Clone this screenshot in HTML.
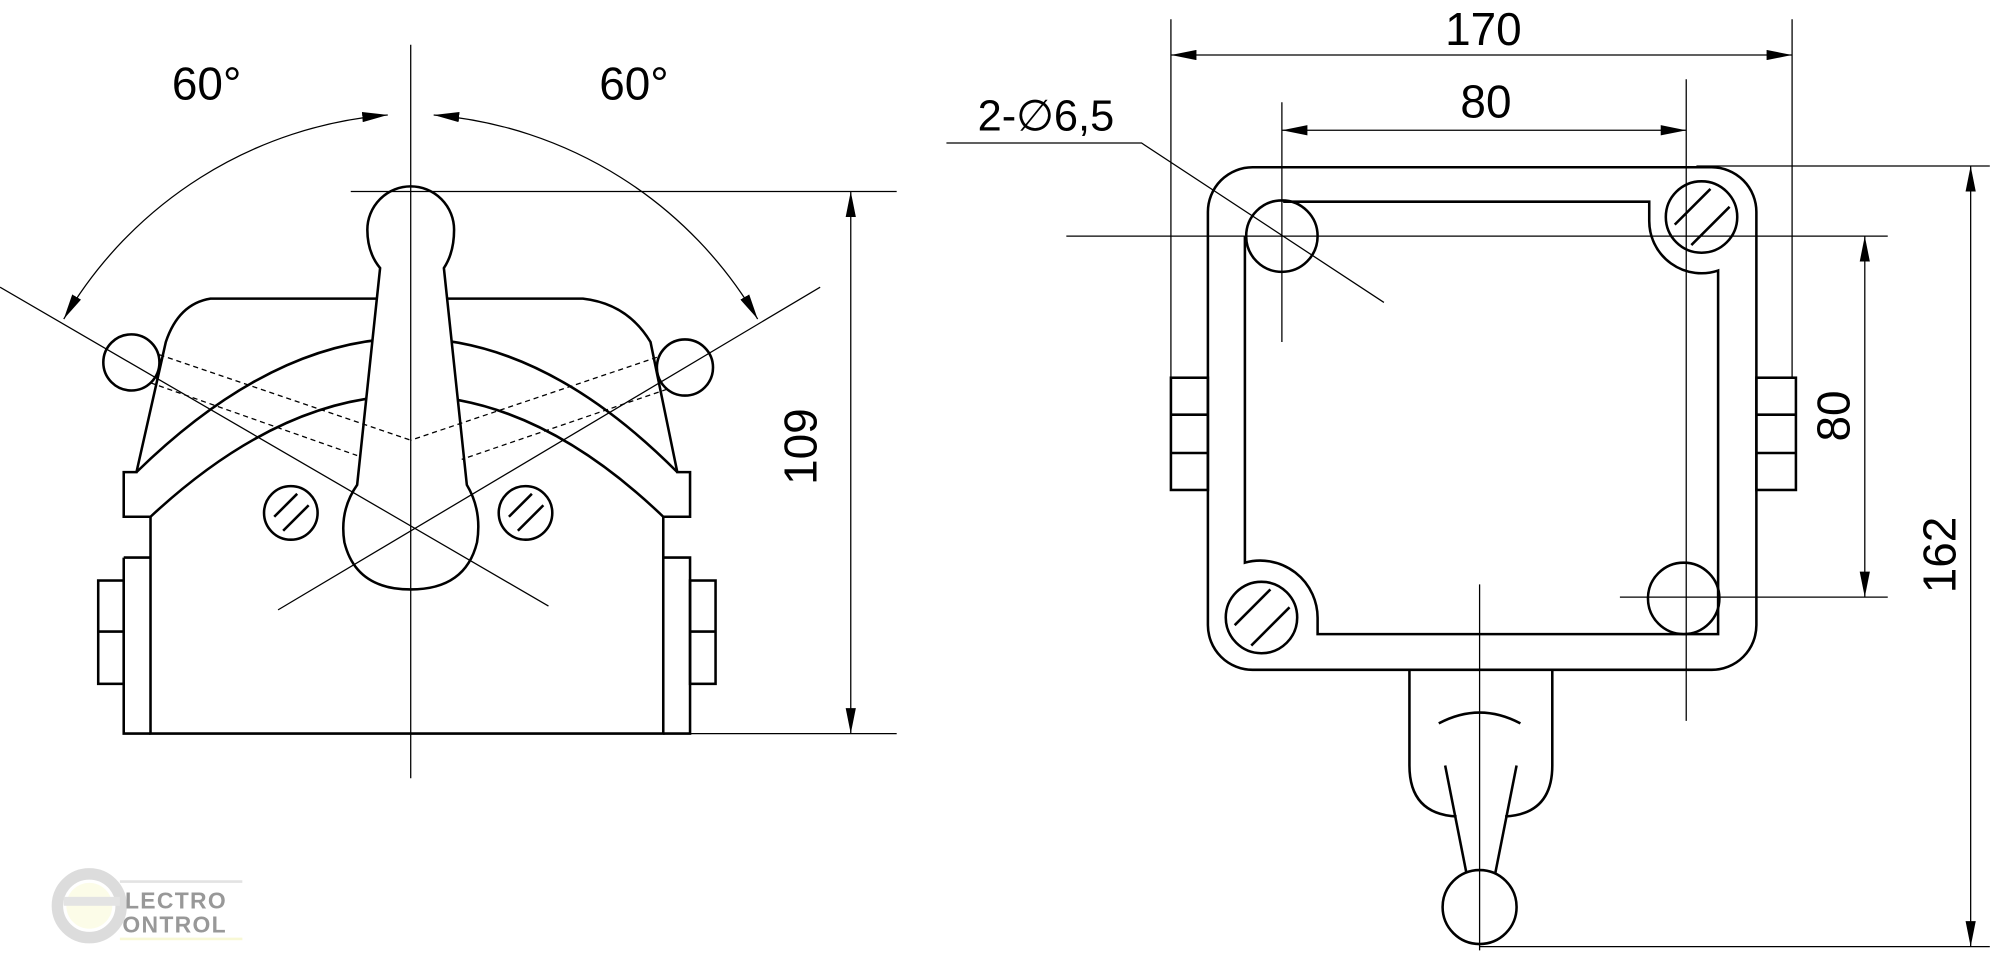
<!DOCTYPE html>
<html><head><style>
html,body{margin:0;padding:0;background:#fff;width:2000px;height:971px;overflow:hidden}
svg{display:block}
text{font-family:"Liberation Sans",Arial,sans-serif;fill:#000}
</style></head><body>
<svg width="2000" height="971" viewBox="0 0 1568 761" xmlns="http://www.w3.org/2000/svg">
<defs>
<marker id="a" viewBox="0 0 20 8" refX="20" refY="4" markerWidth="20" markerHeight="8" orient="auto-start-reverse" markerUnits="userSpaceOnUse"><path d="M0,0 L20,4 L0,8 Z" fill="#000"/></marker>
</defs>
<g fill="none" stroke="#000" stroke-width="2">
<path d="M97,370 L107,370 L130,268 Q140,238 165,234 L457,234 Q492,238 510,268 L531,370 L541,370 L541,405 L520,405 L520,575 L118,575 L118,405 L97,405 Z"/>
<path d="M107,370 Q322,160 531,370"/>
<path d="M118,405 Q322,215 520,405"/>
<path d="M97,437 L118,437 M97,437 L97,575 L118,575 M520,437 L541,437 L541,575 L520,575"/>
<rect x="77" y="455" width="20" height="81"/>
<line x1="77" y1="495" x2="97" y2="495"/>
<rect x="541" y="455" width="20" height="81"/>
<line x1="541" y1="495" x2="561" y2="495"/>
<circle cx="103" cy="284" r="22" fill="#fff"/>
<circle cx="537" cy="288" r="22" fill="#fff"/>
<circle cx="228" cy="402" r="21"/>
<line x1="215" y1="405" x2="233" y2="387"/><line x1="222" y1="416" x2="242" y2="396"/>
<circle cx="412" cy="402" r="21"/>
<line x1="399" y1="405" x2="417" y2="387"/><line x1="406" y1="416" x2="426" y2="396"/>
<path d="M298,210 Q288,198 288,180 A34,34 0 0 1 356,180 Q356,198 348,210 L366,380 Q378,400 374,425 Q365,462 322,462 Q279,462 270,425 Q266,400 280,380 Z" fill="#fff"/>
</g>
<g fill="none" stroke="#000" stroke-width="1">
<line x1="322" y1="35" x2="322" y2="610"/>
<line x1="0" y1="225" x2="430" y2="475"/>
<line x1="643" y1="225" x2="218" y2="478"/>
<g stroke-dasharray="4,3"><line x1="125" y1="278" x2="322" y2="345"/><line x1="118" y1="300" x2="280" y2="357"/><line x1="515" y1="280" x2="322" y2="345"/><line x1="523" y1="305" x2="362" y2="360"/></g>
<path d="M50,250 A325,325 0 0 1 304,90" marker-start="url(#a)" marker-end="url(#a)"/>
<path d="M340,90 A325,325 0 0 1 594,250" marker-start="url(#a)" marker-end="url(#a)"/>
<line x1="275" y1="150" x2="703" y2="150"/>
<line x1="541" y1="575" x2="703" y2="575"/>
<line x1="667" y1="150" x2="667" y2="575" marker-start="url(#a)" marker-end="url(#a)"/>
</g>
<text x="162" y="78" font-size="36" text-anchor="middle">60°</text>
<text x="497" y="78" font-size="36" text-anchor="middle">60°</text>
<text transform="translate(640,350) rotate(-90)" font-size="36" text-anchor="middle">109</text>

<g fill="none" stroke="#000" stroke-width="2">
<rect x="947" y="131" width="430" height="394" rx="35"/>
<path d="M1006,158 L1293,158 L1293,173 A41,41 0 0 0 1347,212 L1347,497 L1033,497 L1033,485 A45,45 0 0 0 976,441 L976,185"/>
<circle cx="1005" cy="185" r="28"/>
<circle cx="1334" cy="170" r="28"/>
<line x1="1313" y1="176" x2="1341" y2="148"/><line x1="1326" y1="192" x2="1356" y2="162"/>
<circle cx="1320" cy="469" r="28"/>
<circle cx="989" cy="484" r="28"/>
<line x1="968" y1="490" x2="996" y2="462"/><line x1="981" y1="506" x2="1011" y2="476"/>
<rect x="918" y="296" width="29" height="88"/><line x1="918" y1="325" x2="947" y2="325"/><line x1="918" y1="355" x2="947" y2="355"/>
<rect x="1377" y="296" width="31" height="88"/><line x1="1377" y1="325" x2="1408" y2="325"/><line x1="1377" y1="355" x2="1408" y2="355"/>
<path d="M1105,525 L1105,600 Q1105,638 1142,640 M1217,525 L1217,600 Q1217,638 1180,640"/>
<path d="M1128,567 Q1160,550 1192,567"/>
<line x1="1133" y1="600" x2="1150" y2="686"/><line x1="1189" y1="600" x2="1172" y2="686"/>
<circle cx="1160" cy="711" r="29" fill="#fff"/>
</g>
<g fill="none" stroke="#000" stroke-width="1">
<line x1="1005" y1="80" x2="1005" y2="268"/>
<line x1="1322" y1="62" x2="1322" y2="565"/>
<line x1="836" y1="185" x2="1480" y2="185"/>
<line x1="1270" y1="468" x2="1480" y2="468"/>
<line x1="1160" y1="458" x2="1160" y2="745"/>
<line x1="918" y1="15" x2="918" y2="296"/>
<line x1="1405" y1="15" x2="1405" y2="296"/>
<line x1="918" y1="43" x2="1405" y2="43" marker-start="url(#a)" marker-end="url(#a)"/>
<line x1="1005" y1="102" x2="1322" y2="102" marker-start="url(#a)" marker-end="url(#a)"/>
<polyline points="742,112 895,112 1085,237"/>
<line x1="1462" y1="185" x2="1462" y2="468" marker-start="url(#a)" marker-end="url(#a)"/>
<line x1="1330" y1="130" x2="1560" y2="130"/>
<line x1="1160" y1="742" x2="1560" y2="742"/>
<line x1="1545" y1="130" x2="1545" y2="742" marker-start="url(#a)" marker-end="url(#a)"/>
</g>
<text x="1163" y="35" font-size="36" text-anchor="middle">170</text>
<text x="1165" y="92" font-size="36" text-anchor="middle">80</text>
<text x="820" y="102" font-size="34" text-anchor="middle">2-∅6,5</text>
<text transform="translate(1450,326) rotate(-90)" font-size="36" text-anchor="middle">80</text>
<text transform="translate(1533,435) rotate(-90)" font-size="36" text-anchor="middle">162</text>

<g opacity="0.4">
<circle cx="70" cy="710" r="25" fill="none" stroke="#aaa" stroke-width="9"/>
<circle cx="70" cy="710" r="18" fill="#f3f0a0" opacity="0.6"/>
<rect x="50" y="703" width="44" height="7" fill="#bbb"/>
<line x1="94" y1="691" x2="190" y2="691" stroke="#bbb" stroke-width="2"/>
<line x1="94" y1="736" x2="190" y2="736" stroke="#ee9" stroke-width="2"/>
<text x="98" y="712" font-size="18" font-weight="bold" fill="#aaa" letter-spacing="1">LECTRO</text>
<text x="96" y="731" font-size="18" font-weight="bold" fill="#ee8" letter-spacing="1">ONTROL</text>
</g>
</svg>
</body></html>
